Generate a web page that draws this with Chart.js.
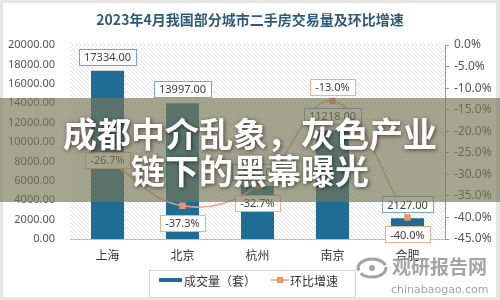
<!DOCTYPE html>
<html><head><meta charset="utf-8">
<script src="https://cdn.jsdelivr.net/npm/chart.js@4/dist/chart.umd.min.js"></script>
<style>html,body{margin:0;padding:0;background:#e6e6e6;}canvas{display:block;}</style>
</head><body>
<canvas id="c" width="500" height="300"></canvas>
<script>
// ---- data ----
const categories = ['上海', '北京', '杭州', '南京', '合肥'];
const volume = [17334, 13997, 5500, 11218, 2127];
const growth = [-26.7, -37.3, -32.7, -13.0, -40.0];
const growthLabelPos = ['center', 'below', 'below', 'above', 'below'];
const chartTitle = '2023年4月我国部分城市二手房交易量及环比增速';
const legendLabels = ['成交量（套）', '环比增速'];
const overlayLines = ['成都中介乱象，灰色产业', '链下的黑幕曝光'];
const watermark = ['观研报告网', 'chinabaogao.com'];

const CJK = "'Noto Sans CJK SC','Noto Sans',sans-serif";
Chart.defaults.font.family = CJK;

function makeHatch() {
  const p = document.createElement('canvas');
  p.width = 4; p.height = 4;
  const g = p.getContext('2d');
  g.fillStyle = '#ffffff'; g.fillRect(0, 0, 4, 4);
  g.strokeStyle = '#e3e3e3'; g.lineWidth = 1;
  g.beginPath(); g.moveTo(-1, -1); g.lineTo(5, 5); g.stroke();
  g.beginPath(); g.moveTo(3, -1); g.lineTo(5, 1); g.stroke();
  g.beginPath(); g.moveTo(-1, 3); g.lineTo(1, 5); g.stroke();
  return p;
}

function box(ctx, text, cx, cy, border, font) {
  ctx.font = font;
  const w = ctx.measureText(text).width + 10, h = 16;
  ctx.fillStyle = '#ffffff';
  ctx.fillRect(Math.round(cx - w / 2) + 0.5, Math.round(cy - h / 2) + 0.5, Math.round(w), h);
  ctx.strokeStyle = border; ctx.lineWidth = 1;
  ctx.strokeRect(Math.round(cx - w / 2) + 0.5, Math.round(cy - h / 2) + 0.5, Math.round(w), h);
  ctx.fillStyle = '#404040';
  ctx.textAlign = 'center'; ctx.textBaseline = 'middle';
  ctx.fillText(text, cx, cy + 1);
}

const decor = {
  id: 'decor',
  beforeDraw(chart) {
    const ctx = chart.ctx, a = chart.chartArea;
    ctx.save();
    ctx.fillStyle = '#e6e6e6'; ctx.fillRect(0, 0, 500, 300);
    ctx.fillStyle = '#ffffff'; ctx.fillRect(3, 3, 493, 294);
    ctx.fillStyle = ctx.createPattern(makeHatch(), 'repeat');
    ctx.fillRect(a.left, a.top - 2, a.right - a.left, a.bottom - a.top + 2);
    ctx.restore();
  },
  afterDatasetsDraw(chart) {
    const ctx = chart.ctx;
    ctx.save();
    const barMeta = chart.getDatasetMeta(1);
    barMeta.data.forEach((el, i) => {
      const cy = Math.max(el.y - 14, 51);
      box(ctx, volume[i].toFixed(2), el.x, cy, '#7ea3bf', "11px 'Noto Sans',sans-serif");
    });
    const lineMeta = chart.getDatasetMeta(0);
    lineMeta.data.forEach((el, i) => {
      let cy = el.y;
      if (growthLabelPos[i] === 'below') cy = el.y + 17;
      if (growthLabelPos[i] === 'above') cy = el.y - 14;
      box(ctx, growth[i].toFixed(1) + '%', el.x, cy, '#e9b095', "11px 'Noto Sans',sans-serif");
    });
    ctx.restore();
  },
  afterDraw(chart) {
    const ctx = chart.ctx;
    ctx.save();
    // title
    ctx.fillStyle = '#2d5b7c';
    ctx.font = "bold 14px " + CJK;
    ctx.textAlign = 'center'; ctx.textBaseline = 'middle';
    ctx.fillText(chartTitle, 250, 20);
    // legend
    ctx.strokeStyle = '#d4d4d4'; ctx.lineWidth = 1;
    ctx.strokeRect(149.5, 270.5, 206, 27);
    ctx.fillStyle = '#1f6d95';
    ctx.fillRect(159, 278, 23, 4);
    ctx.fillStyle = '#333';
    ctx.font = "12px " + CJK;
    ctx.textAlign = 'left';
    ctx.fillText(legendLabels[0], 184, 281);
    ctx.strokeStyle = '#eba585'; ctx.lineWidth = 1.5;
    ctx.beginPath(); ctx.moveTo(271, 280); ctx.lineTo(289, 280); ctx.stroke();
    ctx.fillStyle = '#ee9466'; ctx.fillRect(277, 277, 6, 6);
    ctx.fillStyle = '#333';
    ctx.fillText(legendLabels[1], 290, 281);
    // watermark
    ctx.globalAlpha = 0.9;
    ctx.strokeStyle = '#9a9a9a'; ctx.lineWidth = 3;
    ctx.beginPath(); ctx.ellipse(372, 268, 14, 9, 0, Math.PI * 0.9, Math.PI * 1.9); ctx.stroke();
    ctx.beginPath(); ctx.ellipse(372, 268, 14, 9, 0, Math.PI * 1.9 - 2 * Math.PI + 0.2, Math.PI * 0.8); ctx.stroke();
    ctx.fillStyle = '#9a9a9a';
    ctx.beginPath(); ctx.arc(372, 268, 3, 0, Math.PI * 2); ctx.fill();
    ctx.font = "bold 19px " + CJK;
    ctx.textAlign = 'left'; ctx.textBaseline = 'middle';
    ctx.fillText(watermark[0], 392, 267);
    ctx.font = "11px 'DejaVu Sans',sans-serif";
    ctx.fillText(watermark[1], 391, 290);
    ctx.globalAlpha = 1;
    // overlay band
    ctx.fillStyle = 'rgba(120,118,85,0.66)';
    ctx.fillRect(0, 98, 500, 104);
    ctx.font = "bold 34px " + CJK;
    ctx.textAlign = 'center'; ctx.textBaseline = 'middle';
    ctx.shadowColor = 'rgba(0,0,0,0.6)'; ctx.shadowBlur = 4; ctx.shadowOffsetX = 1; ctx.shadowOffsetY = 1;
    ctx.fillStyle = '#ffffff';
    ctx.fillText(overlayLines[0], 250, 134);
    ctx.fillText(overlayLines[1], 250, 171);
    ctx.restore();
  }
};

new Chart(document.getElementById('c'), {
  data: {
    labels: categories,
    datasets: [
      { type: 'line', label: legendLabels[1], data: growth, yAxisID: 'y1', order: 0,
        borderColor: '#eba585', borderWidth: 1.5, tension: 0.4,
        pointStyle: 'rect', pointRadius: 3.5, pointBackgroundColor: '#ee9466', pointBorderColor: '#ee9466' },
      { type: 'bar', label: legendLabels[0], data: volume, yAxisID: 'y', order: 1,
        backgroundColor: '#1f6d95', barPercentage: 0.44, categoryPercentage: 1 }
    ]
  },
  options: {
    responsive: false, animation: false, devicePixelRatio: 1,
    layout: { padding: { top: 45, bottom: 31, left: 0, right: 0 } },
    plugins: { legend: { display: false }, title: { display: false }, tooltip: { enabled: false } },
    scales: {
      x: {
        grid: { display: false, drawTicks: false },
        border: { display: true, color: '#bfbfbf' },
        ticks: { color: '#333', font: { size: 12, family: CJK }, padding: 9 },
        afterFit(s) { s.height = 30; }
      },
      y: {
        position: 'left', min: 0, max: 20000,
        ticks: { stepSize: 2000, callback: v => v.toFixed(2), color: '#555', font: { size: 11, family: "'Noto Sans',sans-serif" }, padding: 15 },
        grid: { display: false, drawTicks: false },
        border: { display: false },
        afterFit(s) { s.width = 70; }
      },
      y1: {
        position: 'right', min: -45, max: 0,
        ticks: { stepSize: 5, callback: v => v.toFixed(1) + '%', color: '#555', font: { size: 12, family: "'Noto Sans',sans-serif" }, padding: 5 },
        grid: { display: true, drawOnChartArea: false, drawTicks: true, tickLength: 4, color: '#999' },
        border: { display: true, color: '#999' },
        afterFit(s) { s.width = 55; }
      }
    }
  },
  plugins: [decor]
});
</script>
</body></html>
